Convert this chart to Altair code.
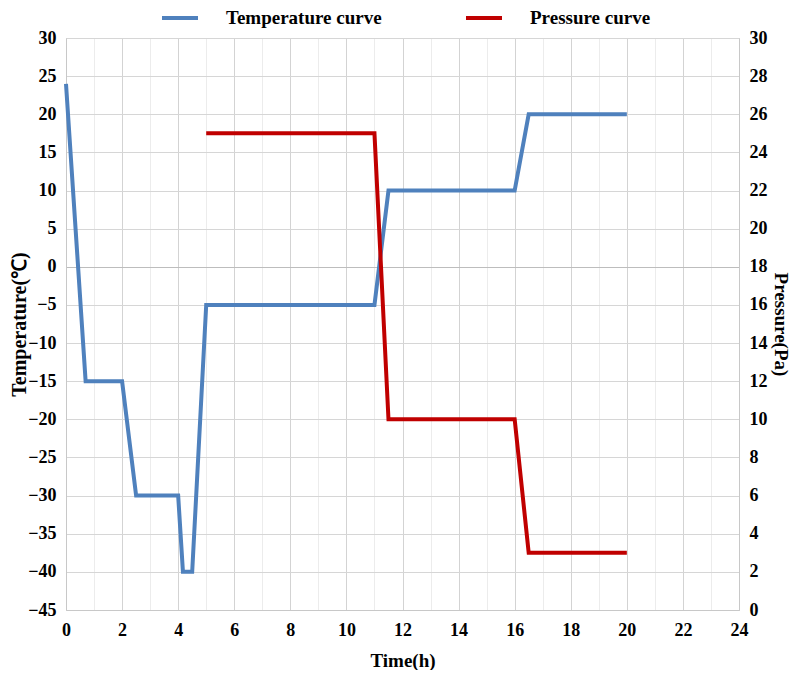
import altair as alt
import pandas as pd

# ---- data ----
temp_time = [0, 0.7, 2, 2.5, 4, 4.17, 4.5, 5, 11, 11.5, 16, 16.5, 20]
temp_vals = [24, -15, -15, -30, -30, -40, -40, -5, -5, 10, 10, 20, 20]
pres_time = [5, 11, 11.5, 16, 16.5, 20]
pres_vals = [25, 25, 10, 10, 3, 3]
series = ["Temperature curve", "Pressure curve"]
colors = ["#4f81bd", "#c00000"]
x_ticks = list(range(0, 25, 1))
t_ticks = list(range(-45, 31, 5))
p_ticks = list(range(0, 31, 2))

FONT = "Liberation Serif"
W, H = 673, 572

temp_df = pd.DataFrame({"time": temp_time, "value": temp_vals, "series": series[0]})
pres_df = pd.DataFrame({"time": pres_time, "value": pres_vals, "series": series[1]})

color = alt.Color(
    "series:N",
    scale=alt.Scale(domain=series, range=colors),
    legend=alt.Legend(
        title=None,
        orient="none",
        legendX=94,
        legendY=-40,
        direction="horizontal",
        symbolType="stroke",
        symbolSize=1296,
        symbolStrokeWidth=4,
        labelFont=FONT,
        labelFontSize=19,
        labelFontWeight="bold",
        labelColor="black",
        labelOffset=26,
        columnPadding=76,
        padding=0,
    ),
)

x = alt.X(
    "time:Q",
    scale=alt.Scale(domain=[0, 24], nice=False),
    axis=alt.Axis(
        values=x_ticks,
        labelExpr="datum.value % 2 === 0 ? datum.label : ''",
        gridColor={"condition": {"test": "datum.value % 2 === 0", "value": "#d3d3d3"},
                   "value": "#ececec"},
        title="Time(h)",
        titleFont=FONT,
        titleFontSize=19,
        titleFontWeight="bold",
        titleColor="black",
        titleX=W / 2,
        titleY=50,
        titleBaseline="middle",
        titleAlign="center",
        labelFont=FONT,
        labelFontSize=18,
        labelFontWeight="bold",
        labelColor="black",
        labelPadding=11,
        ticks=False,
        domainColor="#c8c8c8",
        labelFlush=False,
    ),
)

temp_line = alt.Chart(temp_df).mark_line(strokeWidth=4, strokeJoin="miter").encode(
    x=x,
    y=alt.Y(
        "value:Q",
        scale=alt.Scale(domain=[-45, 30], nice=False),
        axis=alt.Axis(
            values=t_ticks,
            orient="left",
            title="Temperature(℃)",
            titleFont=FONT,
            titleFontSize=20,
            titleFontWeight="bold",
            titleColor="black",
            titleAngle=270,
            titleX=-47,
            titleY=H / 2,
            titleBaseline="middle",
            titleAlign="center",
            labelFont=FONT,
            labelFontSize=18,
            labelFontWeight="bold",
            labelColor="black",
            labelPadding=10,
            ticks=False,
            domainColor="#c8c8c8",
            gridColor={"condition": {"test": "datum.value === 0", "value": "#bdbdbd"},
                       "value": "#d6d6d6"},
            labelFlush=False,
        ),
    ),
    color=color,
)

pres_line = alt.Chart(pres_df).mark_line(strokeWidth=4, strokeJoin="miter").encode(
    x=x,
    y=alt.Y(
        "value:Q",
        scale=alt.Scale(domain=[0, 30], nice=False),
        axis=alt.Axis(
            values=p_ticks,
            orient="right",
            grid=False,
            title="Pressure(Pa)",
            titleAngle=90,
            titleFont=FONT,
            titleFontSize=19,
            titleFontWeight="bold",
            titleColor="black",
            titleX=41,
            titleY=H / 2,
            titleBaseline="middle",
            titleAlign="center",
            labelFont=FONT,
            labelFontSize=18,
            labelFontWeight="bold",
            labelColor="black",
            labelPadding=10,
            labelAlign="left",
            ticks=False,
            domainColor="#c8c8c8",
            labelFlush=False,
        ),
    ),
    color=color,
)

chart = (
    alt.layer(temp_line, pres_line)
    .resolve_scale(y="independent")
    .properties(
        width=W,
        height=H,
        autosize=alt.AutoSizeParams(type="none"),
        padding={"left": 58, "top": 30, "right": 53, "bottom": 60},
        background="white",
    )
    .configure_view(stroke="#d0d0d0")
)

chart.save("out.html", embed_options={"renderer": "svg", "actions": False})
